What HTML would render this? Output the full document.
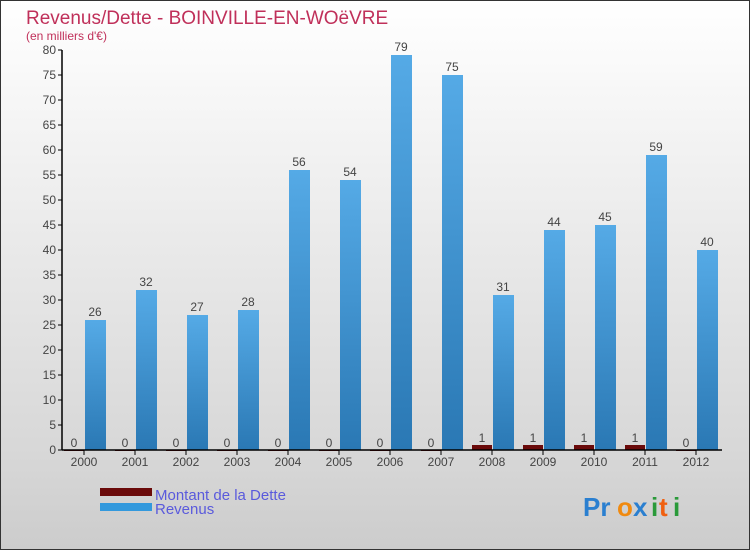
<!DOCTYPE html>
<html><head><meta charset="utf-8"><style>
body{margin:0;width:750px;height:550px;overflow:hidden;font-family:"Liberation Sans",sans-serif}
svg{display:block}
</style></head><body>
<svg width="750" height="550">
<defs>
<linearGradient id="bg" x1="0" y1="0" x2="0" y2="1"><stop offset="0" stop-color="#ffffff"/><stop offset="0.85" stop-color="#d6d6d6"/><stop offset="1" stop-color="#cccccc"/></linearGradient>
<linearGradient id="rev" x1="0" y1="0" x2="0" y2="1"><stop offset="0" stop-color="#55aae6"/><stop offset="1" stop-color="#2a78b4"/></linearGradient>
</defs>
<rect x="0.5" y="0.5" width="749" height="549" fill="url(#bg)" stroke="#333"/>
<text x="26" y="24" font-size="19" fill="#c0305a">Revenus/Dette - BOINVILLE-EN-WOëVRE</text>
<text x="26" y="40" font-size="12" fill="#c0305a">(en milliers d'€)</text>
<g id="plot"></g>
<rect x="100" y="488" width="52" height="8" fill="#6a0a0a"/>
<text x="155" y="500" font-size="15" fill="#5a5adc">Montant de la Dette</text>
<rect x="100" y="503" width="52" height="8" fill="#3399dd"/>
<text x="155" y="514" font-size="15" fill="#5a5adc">Revenus</text>
<g font-size="26" font-weight="bold">
<text x="583" y="516" fill="#2a7fd0">Pr</text><text x="617" y="516" fill="#f08a10">o</text><text x="633" y="516" fill="#2a7fd0">x</text><text x="651" y="516" fill="#2a9a3a">i</text><text x="659" y="516" fill="#f06010">t</text><text x="673" y="516" fill="#2a9a3a">i</text>
</g>
</svg>
<script>
const years=["2000","2001","2002","2003","2004","2005","2006","2007","2008","2009","2010","2011","2012"];
const debt=[0,0,0,0,0,0,0,0,1,1,1,1,0];
const revenue=[26,32,27,28,56,54,79,75,31,44,45,59,40];
const yTicks=[0,5,10,15,20,25,30,35,40,45,50,55,60,65,70,75,80];
const NS="http://www.w3.org/2000/svg";
const g=document.getElementById("plot");
const y=v=>450-v*5;
const xc=i=>84+i*51;
function mk(t,a,txt){const e=document.createElementNS(NS,t);for(const k in a)e.setAttribute(k,a[k]);if(txt!==undefined)e.textContent=txt;g.appendChild(e);return e;}
yTicks.forEach(v=>{
 const l=mk("line",{x1:58,x2:62,y1:y(v),y2:y(v),stroke:"#000"});
 
 
 const t=mk("text",{x:56,y:y(v)+4,"font-size":12,fill:"#444","text-anchor":"end"},v);
 
 
});
years.forEach((yr,i)=>{
 const c=xc(i);
 const db=mk("rect",{x:c-20,y:y(debt[i]),width:20,height:Math.max(debt[i]*5,1),fill:"#6a0a0a"});
 
 
 const dl=mk("text",{x:c-10,y:y(debt[i])-3,"font-size":12,fill:"#444","text-anchor":"middle"},debt[i]);
 
 
 const rb=mk("rect",{x:c+1,y:y(revenue[i]),width:21,height:revenue[i]*5,fill:"url(#rev)"});
 
 
 const rl=mk("text",{x:c+11,y:y(revenue[i])-4,"font-size":12,fill:"#444","text-anchor":"middle"},revenue[i]);
 
 
 const tk=mk("line",{x1:c,x2:c,y1:450,y2:455,stroke:"#000"});
 
 
 const xl=mk("text",{x:c,y:466,"font-size":12,fill:"#444","text-anchor":"middle"},yr);
 
 
});
const ax=mk("line",{x1:62,x2:62,y1:50,y2:450,stroke:"#000","stroke-width":1.5});


const bx=mk("line",{x1:62,x2:722,y1:450,y2:450,stroke:"#000","stroke-width":1.5});


</script>
</body></html>
